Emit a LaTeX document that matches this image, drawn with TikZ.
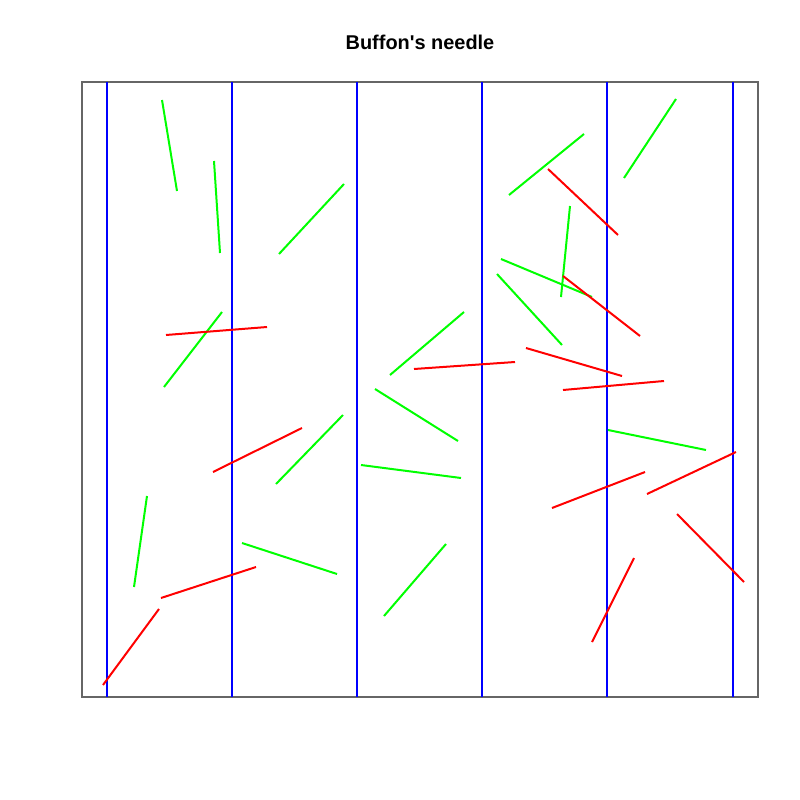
\documentclass[tikz,border=0pt]{standalone}
\usepackage{fontspec}
\setmainfont{Liberation Sans}
\definecolor{rgreen}{RGB}{0,255,0}
\definecolor{rred}{RGB}{255,0,0}
\definecolor{rblue}{RGB}{0,0,255}
\begin{document}
\begin{tikzpicture}[x=1bp, y=-1bp,
  frame/.style={draw=black!60, line width=1.2bp},
  grid line/.style={draw=rblue, line width=2bp},
  hit/.style={draw=rred, line width=2bp},
  miss/.style={draw=rgreen, line width=2bp}
]
  \useasboundingbox (0,0) rectangle (800,800);

  % --- Titre ---
  \node[font=\bfseries\fontsize{20}{24}\selectfont, anchor=base] (title) at (420,50) {Buffon\textquotesingle s needle};

  % --- Cadre et lignes paralleles ---
  \draw[frame] (82,82) rectangle (758,697);
  \foreach \x in {107,232,357,482,607,733}
    \draw[grid line] (\x,82) -- (\x,697);

  % --- Aiguilles sans intersection ---
  \foreach \xa/\ya/\xb/\yb in {162/100/177/191, 214/161/220/253, 279/254/344/184,
      222/312/164/387, 276/484/343/415, 147/496/134/587, 242/543/337/574,
      509/195/584/134, 570/206/561/297, 501/259/592/297, 497/274/562/345,
      464/312/390/375, 375/389/458/441, 361/465/461/478, 446/544/384/616,
      608/430/706/450, 624/178/676/99}
    \draw[miss] (\xa,\ya) -- (\xb,\yb);

  % --- Aiguilles qui coupent une ligne ---
  \foreach \xa/\ya/\xb/\yb in {166/335/267/327, 213/472/302/428, 161/598/256/567,
      159/609/103/685, 548/169/618/235, 563/276/640/336, 414/369/515/362,
      526/348/622/376, 563/390/664/381, 552/508/645/472, 634/558/592/642,
      647/494/736/452, 677/514/744/582}
    \draw[hit] (\xa,\ya) -- (\xb,\yb);
\end{tikzpicture}
\end{document}
